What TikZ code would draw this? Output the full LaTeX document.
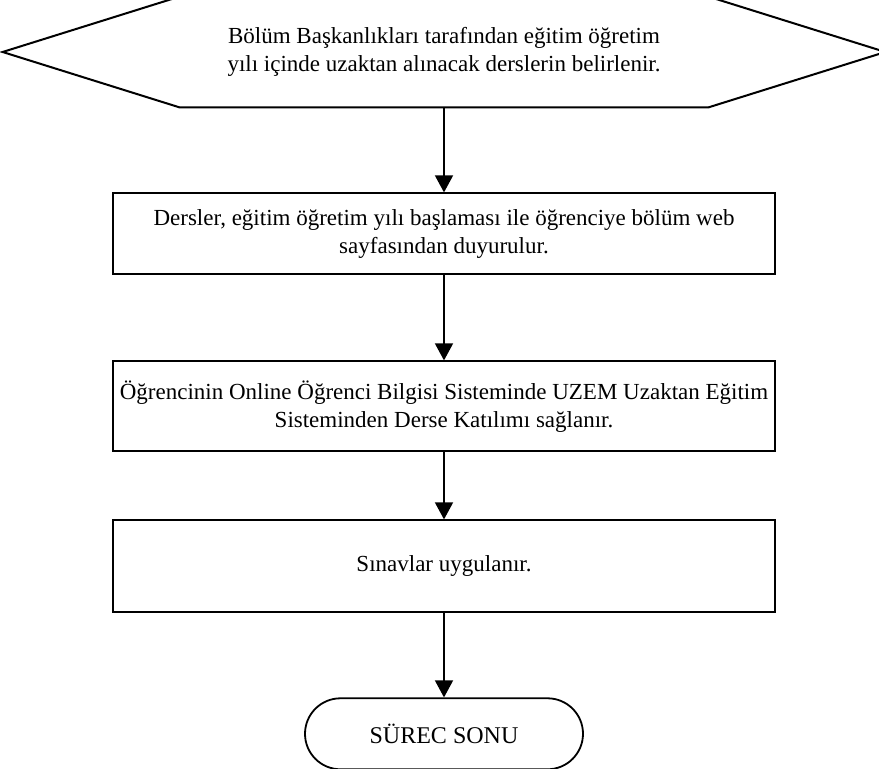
\documentclass[tikz,border=0pt]{standalone}
\usepackage{fontspec}
\setmainfont{Liberation Serif}
\usepackage{tikz}
\usetikzlibrary{arrows.meta,positioning,calc}

\begin{document}
\begin{tikzpicture}[
    node distance=42.5pt,
    txt/.style={font=\fontsize{11.5}{14}\selectfont, align=center},
    hexa/.style={txt, minimum width=264pt, minimum height=55pt, inner sep=0pt},
    adim/.style={draw, line width=1pt, txt, minimum width=331pt, inner sep=2pt},
    bitis/.style={draw, line width=0.9pt, rounded corners=17.75pt, txt,
                  font=\fontsize{12}{14}\selectfont,
                  minimum width=139pt, minimum height=35.5pt},
    ok/.style={-{Triangle[length=8.5pt,width=9pt]}, line width=0.8pt}
]
    % frame of the picture
    \useasboundingbox (0,0) rectangle (439.5pt,-384.5pt);

    % start: hexagon
    \node[hexa] (baslangic) at (222pt,-26pt)
        {B\"ol\"um Ba\c{s}kanl\i klar\i{} taraf\i ndan e\u{g}itim \"o\u{g}retim\\
         y\i l\i{} i\c{c}inde uzaktan al\i nacak derslerin belirlenir.};
    \draw[line width=1pt, line join=miter]
        (baslangic.north west) -- (baslangic.north east)
        -- ($(baslangic.east)+(88.5pt,0)$) -- (baslangic.south east)
        -- (baslangic.south west) -- ($(baslangic.west)+(-88.5pt,0)$) -- cycle;

    % steps
    \node[adim, minimum height=40.5pt, below=of baslangic] (duyuru)
        {Dersler, e\u{g}itim \"o\u{g}retim y\i l\i{} ba\c{s}lamas\i{} ile \"o\u{g}renciye b\"ol\"um web\\
         sayfas\i ndan duyurulur.};
    \node[adim, minimum height=45pt, below=of duyuru] (katilim)
        {\"O\u{g}rencinin Online \"O\u{g}renci Bilgisi Sisteminde UZEM Uzaktan E\u{g}itim\\
         Sisteminden Derse Kat\i l\i m\i{} sa\u{g}lan\i r.};
    \node[adim, minimum height=46pt, below=33.5pt of katilim] (sinav)
        {S\i navlar uygulan\i r.};

    % end
    \node[bitis, below=42pt of sinav] (son) {S\"UREC SONU};

    % arrows
    \draw[ok] (baslangic) -- (duyuru);
    \draw[ok] (duyuru) -- (katilim);
    \draw[ok] (katilim) -- (sinav);
    \draw[ok] (sinav) -- (son);
\end{tikzpicture}
\end{document}
